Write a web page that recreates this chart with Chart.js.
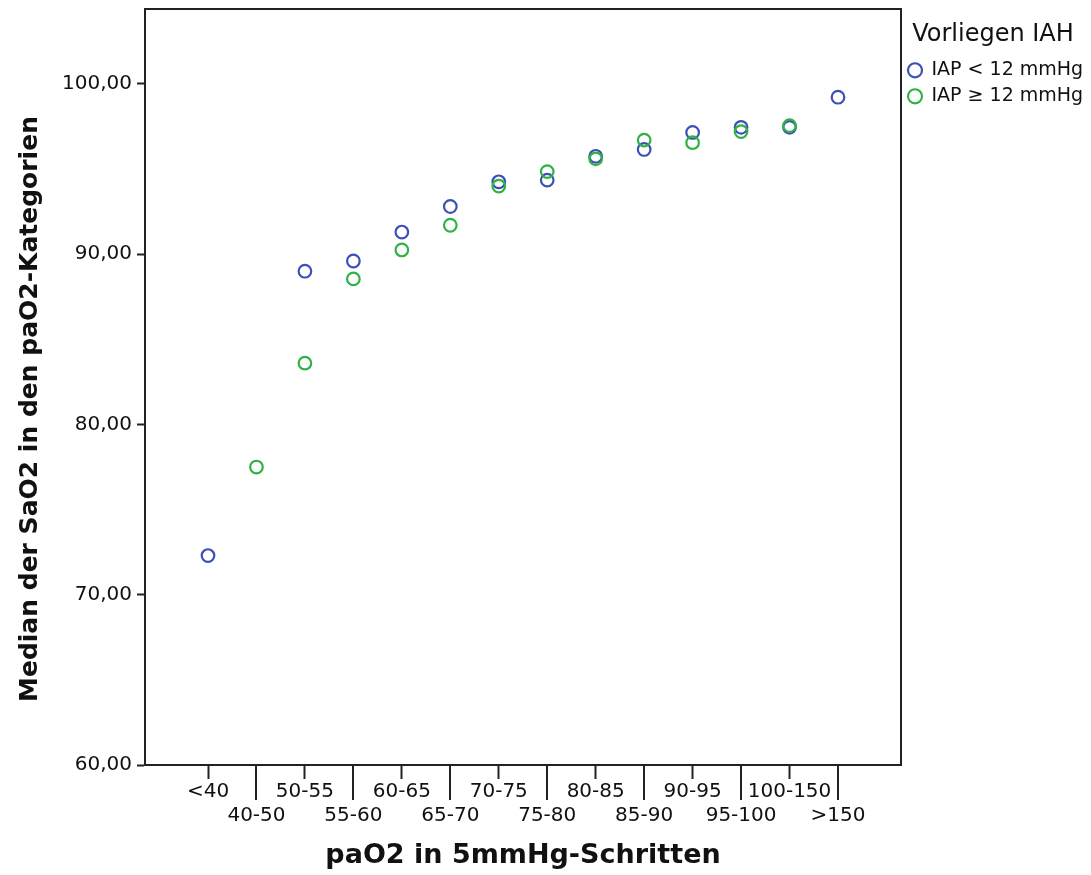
<!DOCTYPE html>
<html>
<head>
<meta charset="utf-8">
<script src="https://cdn.jsdelivr.net/npm/chart.js@4/dist/chart.umd.min.js"></script>
<style>
  html, body { margin: 0; padding: 0; background: #ffffff; }
  canvas { display: block; }
</style>
</head>
<body>
<canvas id="chart" width="1091" height="875"></canvas>
<script>
// paO2 categories (5 mmHg steps)
const categories = ['<40', '40-50', '50-55', '55-60', '60-65', '65-70', '70-75',
                    '75-80', '80-85', '85-90', '90-95', '95-100', '100-150', '>150'];

// Median SaO2 per category, IAP < 12 mmHg
const medianIapLow = [72.3, null, 89.0, 89.6, 91.3, 92.8, 94.25, 94.35, 95.75, 96.15, 97.15, 97.45, 97.45, 99.22];

// Median SaO2 per category, IAP >= 12 mmHg
const medianIapHigh = [null, 77.5, 83.6, 88.55, 90.25, 91.7, 94.0, 94.85, 95.6, 96.7, 96.55, 97.2, 97.55, null];

// y-axis tick values
const yTickValues = [60, 70, 80, 90, 100];

const seriesLabels = ['IAP < 12 mmHg', 'IAP \u2265 12 mmHg'];
const xTitle = 'paO2 in 5mmHg-Schritten';
const yTitle = 'Median der SaO2 in den paO2-Kategorien';

const toPoints = (values) => values
  .map((v, i) => (v === null ? null : { x: i, y: v }))
  .filter(p => p !== null);

const AXIS_COLOR = '#222222';
const TEXT_COLOR = '#111111';
const FONT = '"DejaVu Sans", Verdana, sans-serif';

// Frame on top/right edges, long ticks under the staggered labels, y-axis title
const frameAndTicks = {
  id: 'frameAndTicks',
  afterDraw(chart) {
    const { ctx, chartArea } = chart;
    const xs = chart.scales.x;
    ctx.save();
    ctx.strokeStyle = AXIS_COLOR;
    ctx.lineWidth = 2;
    ctx.beginPath();
    ctx.moveTo(chartArea.left, chartArea.top);
    ctx.lineTo(chartArea.right, chartArea.top);
    ctx.lineTo(chartArea.right, chartArea.bottom);
    ctx.stroke();
    ctx.beginPath();
    for (let i = 1; i < categories.length; i += 2) {
      const px = Math.round(xs.getPixelForValue(i));
      ctx.moveTo(px, chartArea.bottom);
      ctx.lineTo(px, chartArea.bottom + 35);
    }
    ctx.stroke();

    // vertical axis title, set slightly below the plot's mid-height
    ctx.translate(30, (chartArea.top + chartArea.bottom) / 2 + 22);
    ctx.rotate(-Math.PI / 2);
    ctx.fillStyle = TEXT_COLOR;
    ctx.font = 'bold 25px ' + FONT;
    ctx.textAlign = 'center';
    ctx.textBaseline = 'middle';
    ctx.fillText(yTitle, 0, 0);
    ctx.restore();
  }
};

new Chart(document.getElementById('chart'), {
  type: 'scatter',
  data: {
    datasets: [
      {
        label: seriesLabels[0],
        data: toPoints(medianIapLow),
        borderColor: '#3d4fb5',
        backgroundColor: 'rgba(0,0,0,0)',
        borderWidth: 2.2,
        pointRadius: 6.3,
        pointHoverRadius: 6.3,
        pointStyle: 'circle',
        order: 1
      },
      {
        label: seriesLabels[1],
        data: toPoints(medianIapHigh),
        borderColor: '#2fb245',
        backgroundColor: 'rgba(0,0,0,0)',
        borderWidth: 2.2,
        pointRadius: 6.3,
        pointHoverRadius: 6.3,
        pointStyle: 'circle',
        order: 0
      }
    ]
  },
  options: {
    responsive: false,
    animation: false,
    devicePixelRatio: 1,
    layout: { padding: { left: 0, top: 9, right: 6, bottom: 0 } },
    plugins: {
      tooltip: { enabled: false },
      legend: {
        position: 'right',
        align: 'start',
        maxWidth: 184,
        title: {
          display: true,
          text: 'Vorliegen IAH',
          color: TEXT_COLOR,
          font: { family: FONT, size: 24 },
          padding: { top: 14, bottom: 2 }
        },
        labels: {
          usePointStyle: true,
          pointStyleWidth: 14,
          boxHeight: 10,
          padding: 7,
          color: TEXT_COLOR,
          font: { family: FONT, size: 19 },
          sort: (a, b) => a.datasetIndex - b.datasetIndex
        }
      }
    },
    scales: {
      x: {
        type: 'linear',
        min: -1.3,
        max: 14.3,
        afterBuildTicks: (scale) => {
          scale.ticks = categories.map((_, i) => ({ value: i }));
        },
        afterFit: (scale) => {
          scale.height = 110;
          scale.paddingLeft = 0;
          scale.paddingRight = 0;
        },
        border: { display: true, color: AXIS_COLOR, width: 2 },
        grid: {
          drawOnChartArea: false,
          tickLength: 14,
          tickWidth: 2,
          tickColor: (ctx) => (ctx.index % 2 === 0 ? AXIS_COLOR : 'rgba(0,0,0,0)')
        },
        ticks: {
          autoSkip: false,
          maxRotation: 0,
          padding: 1,
          color: TEXT_COLOR,
          font: { family: FONT, size: 20, lineHeight: 1.2 },
          callback: (value, index) => {
            const label = categories[value];
            return index % 2 === 0 ? label : ['', label];
          }
        },
        title: {
          display: true,
          text: xTitle,
          color: TEXT_COLOR,
          font: { family: FONT, size: 27, weight: 'bold', lineHeight: 1.2 },
          padding: { top: 0, bottom: 3 }
        }
      },
      y: {
        type: 'linear',
        min: 60,
        max: 104.4,
        afterBuildTicks: (scale) => {
          scale.ticks = yTickValues.map(v => ({ value: v }));
        },
        afterFit: (scale) => {
          scale.width = 145;
          scale.paddingTop = 0;
          scale.paddingBottom = 0;
        },
        border: { display: true, color: AXIS_COLOR, width: 2 },
        grid: {
          drawOnChartArea: false,
          tickLength: 8,
          tickWidth: 2,
          tickColor: AXIS_COLOR
        },
        ticks: {
          padding: 5,
          color: TEXT_COLOR,
          font: { family: FONT, size: 20 },
          callback: (value) => value.toFixed(2).replace('.', ',')
        },
        title: { display: false }
      }
    }
  },
  plugins: [frameAndTicks]
});
</script>
</body>
</html>
